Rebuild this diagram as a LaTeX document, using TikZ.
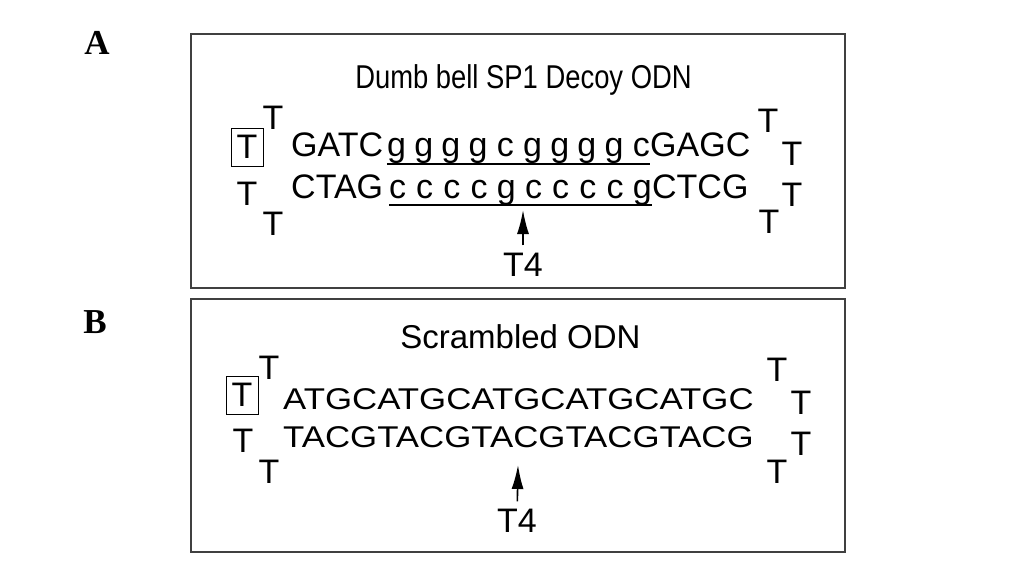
\documentclass[tikz,border=0pt]{standalone}
\usepackage{fontspec}
\setmainfont{Liberation Sans}
\newfontfamily\panelfont{Liberation Serif}
\usetikzlibrary{arrows.meta,positioning}
\tikzset{
  panel/.style={draw=black!75, line width=1.4pt},
  title/.style={font=\fontsize{33}{40}\selectfont, inner sep=0pt, anchor=base},
  seq/.style={font=\fontsize{34}{40}\selectfont, inner sep=0pt, anchor=base west},
  base letter/.style={font=\fontsize{34}{40}\selectfont, inner sep=0pt, anchor=base},
  loopT/.style={font=\fontsize{34}{40}\selectfont, inner sep=0pt, anchor=base},
  capT/.style={draw, line width=0.9pt, font=\fontsize{34}{40}\selectfont, inner sep=0pt,
    minimum width=32pt, minimum height=38pt},
  tag/.style={font=\panelfont\bfseries\fontsize{35}{40}\selectfont, inner sep=0pt, anchor=base},
  site/.style={line width=1.6pt, -{Latex[length=24pt,width=12pt]}, shorten <=7pt},
  under/.style={line width=1.6pt},
}
\begin{document}
\begin{tikzpicture}[x=1pt,y=1pt]
\useasboundingbox (0,0) rectangle (1033,-575);

% panel A
\draw[panel] (191,-34) rectangle (845,-288);
\node[tag] (labA) at (97,-55) {A};
\node[title] (titA) at (523.5,-89) {\scalebox{0.83}[1]{Dumb bell SP1 Decoy ODN}};
\node[capT] (capA) at (247,-147) {T};
\foreach \x/\y [count=\i] in {273/130,247/205,273/235,768/132,792/165,792/206,769/233}
  \node[loopT] (ta\i) at (\x,-\y) {T};
\node[seq] (gatc) at (291,-157) {GATC};
\foreach \b [count=\i] in {g,g,g,g,c,g,g,g,g,c}
  \node[base letter] (gt\i) at ({369.3+27.2*\i},-157) {\b};
\node[seq, base right=0pt of gt10] (gagc) {GAGC};
\node[seq] (ctag) at (291,-198) {CTAG};
\foreach \b [count=\i] in {c,c,c,c,g,c,c,c,c,g}
  \node[base letter] (gb\i) at ({370.3+27.2*\i},-198) {\b};
\node[seq, base right=0pt of gb10] (ctcg) {CTCG};
\draw[under] (gt1.south west) -- (gt1.south west -| gt10.east);
\draw[under] (gb10.south east) -- (gb10.south east -| gb1.west);
\coordinate (nickA) at (523,-210);
\node[loopT] (t4a) at (523,-276) {T4};
\draw[site] (t4a) -- (nickA);

% panel B
\draw[panel] (191,-299) rectangle (845,-552);
\node[tag] (labB) at (95,-333) {B};
\node[title] (titB) at (520.5,-348) {Scrambled ODN};
\node[capT] (capB) at (242,-395) {T};
\foreach \x/\y [count=\i] in {269/379,243/452,269/483,777/381,801/414,801/455,777/483}
  \node[loopT] (tb\i) at (\x,-\y) {T};
\node[seq] (scrtop) at (283,-409) {\fontsize{30}{36}\selectfont\scalebox{1.16}[1]{ATGCATGCATGCATGCATGC}};
\node[seq] (scrbot) at (283,-447) {\fontsize{30}{36}\selectfont\scalebox{1.16}[1]{TACGTACGTACGTACGTACG}};
\coordinate (nickB) at (518,-465);
\node[loopT] (t4b) at (517,-532) {T4};
\draw[site] (t4b) -- (nickB);
\end{tikzpicture}
\end{document}
